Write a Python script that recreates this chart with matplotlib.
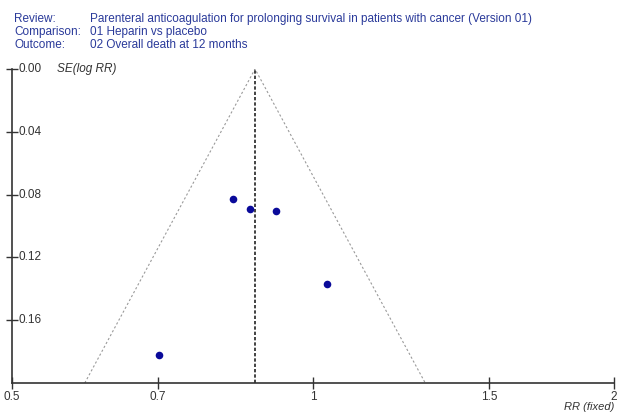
"""Funnel plot: heparin vs placebo, overall death at 12 months."""

import numpy as np
import matplotlib
matplotlib.use("Agg")
import matplotlib.pyplot as plt
from matplotlib.transforms import blended_transform_factory

plt.rcParams["font.family"] = ["Liberation Sans", "DejaVu Sans"]

# study estimates
rr = [0.832, 0.864, 0.918, 1.032, 0.702]
se = [0.0825, 0.0889, 0.0905, 0.137, 0.182]
pooled_rr = 0.875
se_max = 0.2

x_ticks = [0.5, 0.7, 1, 1.5, 2]
x_labels = ["0.5", "0.7", "1", "1.5", "2"]
y_ticks = [0.00, 0.04, 0.08, 0.12, 0.16]
y_labels = ["0.00", "0.04", "0.08", "0.12", "0.16"]

header = [("Review:", "Parenteral anticoagulation for prolonging survival in patients with cancer (Version 01)"),
          ("Comparison:", "01 Heparin vs placebo"),
          ("Outcome:", "02 Overall death at 12 months")]

BLUE = "#2a3a9a"

fig = plt.figure(figsize=(6.18, 4.12), dpi=100)
ax = fig.add_axes([12 / 618, 29 / 412, 602 / 618, 314 / 412])

ax.set_xscale("log")
ax.set_xlim(0.5, 2)
ax.set_ylim(se_max, 0)

# funnel lines
lo = pooled_rr * np.exp(-1.96 * se_max)
hi = pooled_rr * np.exp(1.96 * se_max)
ax.plot([lo, pooled_rr, hi], [se_max, 0, se_max], ls=(0, (2, 2)), color="#9a9a9a", lw=0.8)
ax.plot([pooled_rr, pooled_rr], [se_max, 0], ls=(0, (2, 1.2)), color="#222222", lw=1.2)

ax.scatter(rr, se, s=30, color="#0a0a9a", zorder=3, linewidths=0)

for s in ("top", "right"):
    ax.spines[s].set_visible(False)
for s in ("left", "bottom"):
    ax.spines[s].set_color("#333333")
    ax.spines[s].set_linewidth(1.2)

ax.set_xticks(x_ticks)
ax.set_xticklabels(x_labels, fontsize=8.5, color="#333333")
ax.xaxis.set_minor_locator(matplotlib.ticker.NullLocator())
ax.tick_params(axis="x", direction="inout", length=8, width=1, pad=2, colors="#333333")

ax.set_yticks(y_ticks)
ax.tick_params(axis="y", direction="inout", length=8, width=1, labelleft=False, colors="#333333")
tr = blended_transform_factory(ax.transAxes, ax.transData)
for v, lab in zip(y_ticks, y_labels):
    ax.text(0.011, v, lab, transform=tr, ha="left", va="center", fontsize=8.5, color="#333333")

ax.text(0.075, 0, "SE(log RR)", transform=tr, ha="left", va="center", fontsize=8.5,
        style="italic", color="#333333")
ax.text(1.0, -0.076, "RR (fixed)", transform=ax.transAxes, ha="right", va="center",
        fontsize=8, style="italic", color="#333333")

for i, (k, v) in enumerate(header):
    y = 1 - (22 + 13 * i) / 412
    fig.text(14 / 618, y, k, ha="left", va="baseline", fontsize=8.5, color=BLUE)
    fig.text(90 / 618, y, v, ha="left", va="baseline", fontsize=8.5, color=BLUE)

fig.savefig("out.png", dpi=100)
